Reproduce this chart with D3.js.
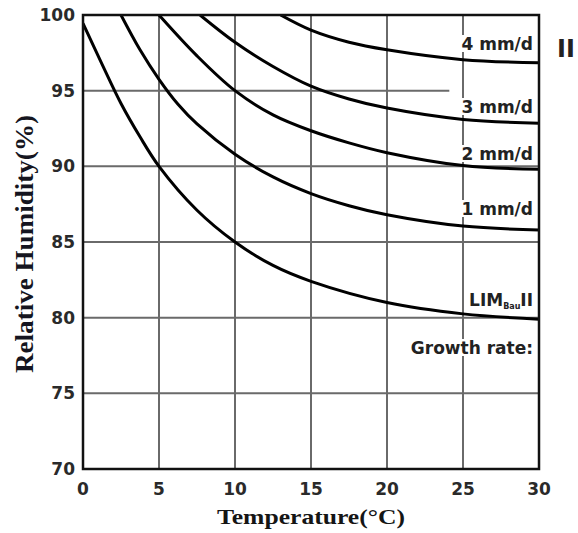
<!DOCTYPE html>
<html>
<head>
<meta charset="utf-8">
<script src="https://cdn.jsdelivr.net/npm/d3@7"></script>
<style>
  html, body { margin: 0; padding: 0; background: #fff; }
  svg { display: block; }
</style>
</head>
<body>
<svg id="chart" width="578" height="533"></svg>
<script>
// Mould growth isopleths: relative humidity needed at each temperature
const xTicks = [0, 5, 10, 15, 20, 25, 30];
const yTicks = [70, 75, 80, 85, 90, 95, 100];

const limTemp = [0, 1.25, 2.5, 3.75, 5, 7.5, 10, 12.5, 15, 20, 25, 30];
const limRH   = [99.45, 96.75, 94.15, 91.95, 90, 87.1, 85, 83.45, 82.4, 81.0, 80.25, 79.9];

const rate1Temp = [2.5, 3.75, 5, 6.25, 7.5, 10, 12.5, 15, 17.5, 20, 25, 30];
const rate1RH   = [100, 97.7, 95.75, 94.1, 92.8, 90.8, 89.3, 88.2, 87.4, 86.8, 86.05, 85.8];

const rate2Temp = [5, 7.5, 10, 12.5, 15, 17.5, 20, 25, 30];
const rate2RH   = [100, 97.3, 95.0, 93.4, 92.35, 91.55, 90.9, 90.05, 89.8];

const rate3Temp = [7.7, 10, 12.5, 15, 17.5, 20, 25, 30];
const rate3RH   = [100, 98.2, 96.6, 95.3, 94.45, 93.85, 93.1, 92.85];

const rate4Temp = [13, 15, 17.5, 20, 25, 30];
const rate4RH   = [100, 99.0, 98.2, 97.7, 97.05, 96.85];

// humidity level whose grid line stops short of the label column
const shortGridLevel = 95;
const shortGridEnd = 24.1;

const svg = d3.select("#chart");
const margin = { left: 83, right: 39, top: 15, bottom: 64 };
const W = 578, H = 533;

const x = d3.scaleLinear().domain([0, 30]).range([margin.left, W - margin.right]);
const y = d3.scaleLinear().domain([70, 100]).range([H - margin.bottom, margin.top]);

const tickFont = "'DejaVu Sans', sans-serif";
const titleFont = "'Liberation Serif', 'Times New Roman', serif";

// grid
const grid = svg.append("g").attr("stroke", "#6a6a6a").attr("stroke-width", 2);
grid.selectAll("line.h").data(yTicks.filter(v => v > 70 && v < 100)).join("line")
  .attr("class", "h")
  .attr("x1", x(0)).attr("x2", d => d === shortGridLevel ? x(shortGridEnd) : x(30))
  .attr("y1", d => y(d)).attr("y2", d => y(d));
grid.selectAll("line.v").data(xTicks.filter(v => v > 0 && v < 30)).join("line")
  .attr("class", "v")
  .attr("x1", d => x(d)).attr("x2", d => x(d))
  .attr("y1", y(100)).attr("y2", y(70));

// label column text
const labelX = 533;
const labels = [
  { text: "4 mm/d", base: 50 },
  { text: "3 mm/d", base: 113 },
  { text: "2 mm/d", base: 160 },
  { text: "1 mm/d", base: 215 },
  { text: "LIM", base: 306, sub: "Bau", tail: "II" },
  { text: "Growth rate:", base: 354 }
];

const labelG = svg.append("g");
const textG = svg.append("g")
  .attr("font-family", tickFont).attr("font-weight", "bold")
  .attr("font-size", 17).attr("fill", "#222").attr("text-anchor", "end");

labels.forEach(l => {
  const t = textG.append("text").attr("x", labelX).attr("y", l.base);
  t.append("tspan").text(l.text);
  if (l.sub) {
    t.append("tspan").attr("font-size", 8).attr("dy", 3).text(l.sub);
    t.append("tspan").attr("dy", -3).text(l.tail);
  }
  const bb = t.node().getBBox();
  labelG.append("rect")
    .attr("x", bb.x - 2).attr("y", bb.y + 1)
    .attr("width", bb.width + 2).attr("height", bb.height - 3)
    .attr("fill", "#fff");
});

// curves
svg.append("clipPath").attr("id", "plotClip").append("rect")
  .attr("x", x(0)).attr("y", y(100)).attr("width", x(30) - x(0)).attr("height", y(70) - y(100));

const series = [
  { t: limTemp, rh: limRH },
  { t: rate1Temp, rh: rate1RH },
  { t: rate2Temp, rh: rate2RH },
  { t: rate3Temp, rh: rate3RH },
  { t: rate4Temp, rh: rate4RH }
];
const line = d3.line().x(d => x(d[0])).y(d => y(d[1])).curve(d3.curveCatmullRom.alpha(0.5));
svg.append("g").attr("clip-path", "url(#plotClip)")
  .selectAll("path").data(series).join("path")
  .attr("d", s => line(s.t.map((t, i) => [t, s.rh[i]])))
  .attr("fill", "none").attr("stroke", "#000").attr("stroke-width", 3);

textG.raise();

// frame
svg.append("rect")
  .attr("x", x(0)).attr("y", y(100)).attr("width", x(30) - x(0)).attr("height", y(70) - y(100))
  .attr("fill", "none").attr("stroke", "#111").attr("stroke-width", 2.5);

// tick labels
const tickG = svg.append("g").attr("font-family", tickFont).attr("font-weight", "bold")
  .attr("font-size", 17).attr("fill", "#2a2a2a");
tickG.selectAll("text.y").data(yTicks).join("text")
  .attr("class", "y").attr("x", 75).attr("y", d => y(d) + 6)
  .attr("text-anchor", "end").text(d => d);
tickG.selectAll("text.x").data(xTicks).join("text")
  .attr("class", "x").attr("x", d => x(d)).attr("y", 495)
  .attr("text-anchor", "middle").text(d => d);

// class marker
svg.append("text").attr("x", 566).attr("y", 57).attr("text-anchor", "middle")
  .attr("font-family", tickFont).attr("font-weight", "bold").attr("font-size", 24)
  .attr("fill", "#222").text("II");

// axis titles
svg.append("text")
  .attr("x", x(15)).attr("y", 524).attr("text-anchor", "middle")
  .attr("font-family", titleFont).attr("font-weight", "bold").attr("font-size", 22)
  .attr("fill", "#151515")
  .attr("textLength", 188).attr("lengthAdjust", "spacingAndGlyphs")
  .text("Temperature(°C)");

svg.append("text")
  .attr("transform", `translate(33, ${(y(70) + y(100)) / 2 + 2}) rotate(-90)`)
  .attr("text-anchor", "middle")
  .attr("font-family", titleFont).attr("font-weight", "bold").attr("font-size", 25)
  .attr("fill", "#151520")
  .attr("textLength", 258).attr("lengthAdjust", "spacingAndGlyphs")
  .text("Relative Humidity(%)");
</script>
</body>
</html>
